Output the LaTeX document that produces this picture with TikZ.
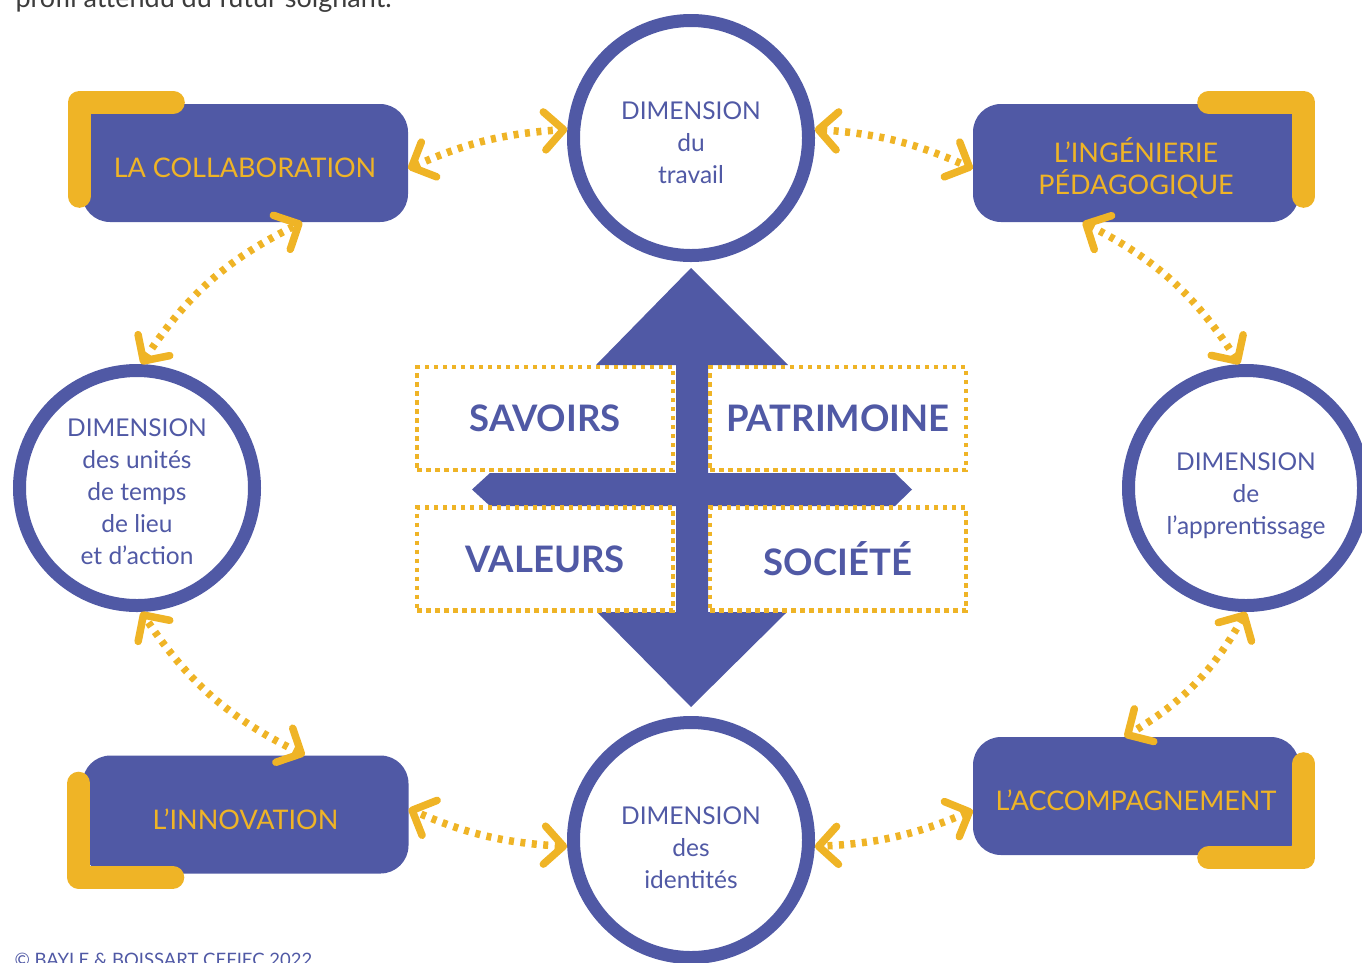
\documentclass[tikz,border=0pt]{standalone}
\usepackage{fontspec}
\setmainfont{Lato}
\usetikzlibrary{positioning, arrows.meta, calc}
\definecolor{dimblue}{RGB}{80,89,165}
\definecolor{gold}{RGB}{239,180,38}
\definecolor{introgray}{RGB}{60,60,60}
% Invisible strut to push a block of lines down in its node
\newcommand{\sink}[1]{\rule{0pt}{#1pt}}

\begin{document}
\begin{tikzpicture}[
    % GLOBAL CFG (one unit = one pixel of the layout, y going down)
    x=1pt, y=-1pt,
    % Styles
    ring/.style={% For the DIMENSION circles
        circle,
        draw=dimblue,
        line width=13pt,
        fill=white,
        minimum size=235pt,
        inner sep=0pt,
        align=center,
        text=dimblue,
        font=\fontsize{24.5}{32}\selectfont,
        },
    pole/.style={% For the blue boxes
        rectangle,
        rounded corners=28pt,
        fill=dimblue,
        minimum width=326pt,
        minimum height=118pt,
        align=center,
        text=gold,
        font=\fontsize{27}{32}\selectfont,
        },
    bracket/.style={% Yellow corner on a box
        draw=gold,
        line width=23pt,
        line cap=round,
        line join=round,
        },
    word/.style={% Dotted boxes round the cross
        rectangle,
        draw=gold,
        line width=4.5pt,
        dash pattern=on 4.5pt off 4.5pt,
        minimum width=256pt,
        minimum height=103pt,
        text=dimblue,
        font=\fontsize{36.5}{40}\selectfont\bfseries,
        },
    link/.style={% Dotted double arrows
        draw=gold,
        line width=7.5pt,
        dash pattern=on 5pt off 6.5pt,
        {Straight Barb[length=19pt, width=38pt, round]}-{Straight Barb[length=19pt, width=38pt, round]},
        },
    ]
\useasboundingbox (0,0) rectangle (1362,962);

% Texts cut by the frame
\node [anchor=base west, text=introgray, font=\fontsize{27}{30}\selectfont] (intro) at (12,7) {profil attendu du futur soignant.};
\node [anchor=base west, text=dimblue, font=\fontsize{18.5}{22}\selectfont] (credit) at (11,966) {© BAYLE \& BOISSART CEFIEC 2022};

% Central cross
\fill [dimblue] (691,268) -- (788,365) -- (708,365) -- (708,612) -- (787,612) -- (691,707)
    -- (597,612) -- (676,612) -- (676,365) -- (596,365) -- cycle;
\fill [dimblue] (472,489.5) -- (490,473) -- (895,473) -- (912,489.5) -- (895,506) -- (490,506) -- cycle;
\node [word] (savoirs) at (545,418.5) {SAVOIRS};
\node [word] (patri) at (838,418.5) {PATRIMOINE};
\node [word] (valeurs) at (545,559) {VALEURS};
\node [word] (societe) at (838,559) {SOCIÉTÉ};

% Dimensions
\node [ring] (dtrav) at (691,138) {\sink{28}DIMENSION\\du\\travail};
\node [ring] (dident) at (691,840) {\sink{33.5}DIMENSION\\des\\identités};
\node [ring] (dtemps) at (137,488) {\sink{26}DIMENSION\\des unités\\de temps\\de lieu\\et d’action};
\node [ring] (dappr) at (1246,488) {\sink{33.5}DIMENSION\\de\\l’apprentissage};

% Boxes with their corners
\node [pole] (collab) at (245,163) {\sink{30}LA COLLABORATION};
\node [pole] (inge) at (1136,163) {\sink{35}L’INGÉNIERIE\\PÉDAGOGIQUE};
\node [pole] (innov) at (245.5,814.5) {\sink{30}L’INNOVATION};
\node [pole] (accomp) at (1136,796) {\sink{30}L’ACCOMPAGNEMENT};
\draw [bracket] ($(collab.north west)+(91.5,-1.5)$) -- ($(collab.north west)+(-2.5,-1.5)$) -- ($(collab.north west)+(-2.5,92.5)$);
\draw [bracket] ($(inge.north east)+(-90.5,-1.5)$) -- ($(inge.north east)+(4.5,-1.5)$) -- ($(inge.north east)+(4.5,92.5)$);
\draw [bracket] ($(innov.south west)+(-3.5,-90.5)$) -- ($(innov.south west)+(-3.5,3.5)$) -- ($(innov.south west)+(90.5,3.5)$);
\draw [bracket] ($(accomp.south east)+(4.5,-91.5)$) -- ($(accomp.south east)+(4.5,2.5)$) -- ($(accomp.south east)+(-90.5,2.5)$);

% Ring of arrows, clockwise
\draw [link] (dtrav.4) to [bend left=10] (inge.182);
\draw [link] (inge.228) to [bend left=15] (dappr.93);
\draw [link] (dappr.270) to [bend left=15] (accomp.101);
\draw [link] (accomp.185) to [bend left=10] (dident.357);
\draw [link] (dident.183) to [bend left=10] (innov.2);
\draw [link] (innov.45) to [bend left=15] (dtemps.272);
\draw [link] (dtemps.88) to [bend left=15] (collab.-46);
\draw [link] (collab.-2) to [bend left=10] (dtrav.176);

\end{tikzpicture}
\end{document}
